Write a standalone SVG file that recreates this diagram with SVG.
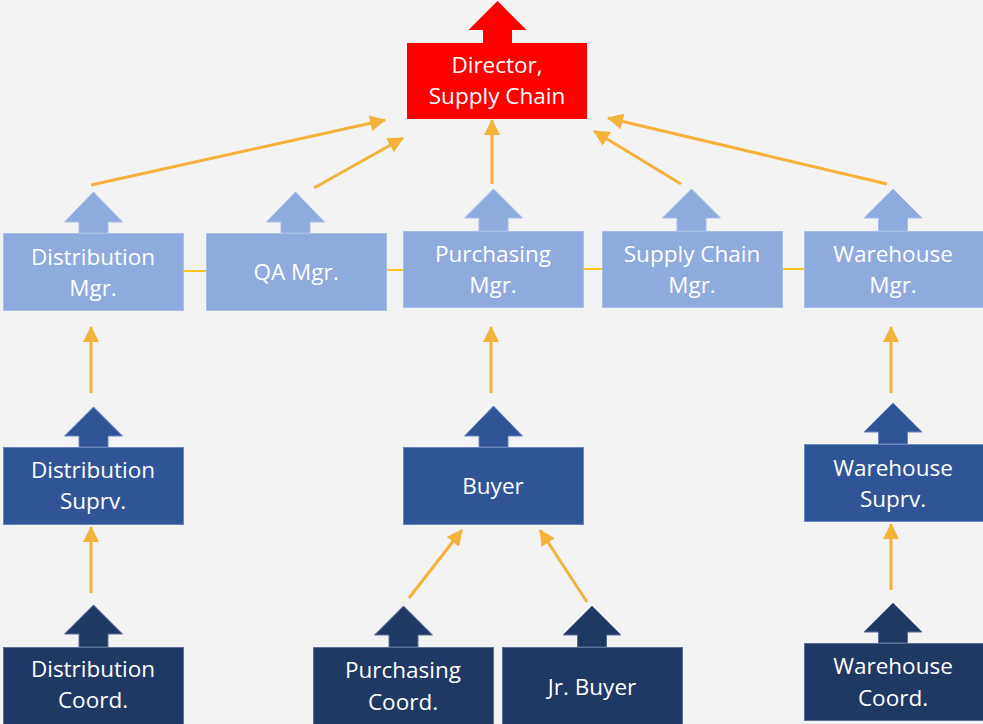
<svg xmlns="http://www.w3.org/2000/svg" width="983" height="724" viewBox="0 0 983 724">
<defs>
<style>
.t{font-family:"Open Sans","Liberation Sans",sans-serif;font-size:22.5px;fill:#ffffff;text-anchor:middle}
.lt{fill:#8faadc;stroke:#a9bee6;stroke-width:1}
.md{fill:#2f5597;stroke:#6b87bd;stroke-width:1}
.dk{fill:#203864;stroke:#5d6f96;stroke-width:1}
.rd{fill:#ff0000}
.ar{stroke:#f5b23a;stroke-width:3;fill:none;marker-end:url(#ah)}
.ln{stroke:#ffc000;stroke-width:1.8;fill:none}
</style>
<marker id="ah" viewBox="0 0 16 16" refX="15" refY="8" markerWidth="16" markerHeight="16" markerUnits="userSpaceOnUse" orient="auto">
<path d="M0,0 L16,8 L0,16 z" fill="#f5b23a"/>
</marker>
</defs>
<rect width="983" height="724" fill="#f3f3f3"/>

<g id="connectors">
<line class="ln" x1="183" y1="271" x2="206" y2="271"/>
<line class="ln" x1="386" y1="270" x2="403" y2="270"/>
<line class="ln" x1="583" y1="269" x2="602" y2="269"/>
<line class="ln" x1="782" y1="269" x2="804" y2="269"/>
<line class="ar" x1="91" y1="185" x2="385" y2="120"/>
<line class="ar" x1="314" y1="188" x2="403" y2="138"/>
<line class="ar" x1="492" y1="184" x2="492" y2="120"/>
<line class="ar" x1="681" y1="184" x2="594" y2="131"/>
<line class="ar" x1="887" y1="184" x2="608" y2="118"/>
<line class="ar" x1="91" y1="393" x2="91" y2="327"/>
<line class="ar" x1="491" y1="393" x2="491" y2="327"/>
<line class="ar" x1="891" y1="393" x2="891" y2="327"/>
<line class="ar" x1="91" y1="593" x2="91" y2="527"/>
<line class="ar" x1="891" y1="590" x2="891" y2="524"/>
<line class="ar" x1="409" y1="598" x2="462" y2="530"/>
<line class="ar" x1="587" y1="602" x2="540" y2="530"/>
</g>

<g id="director">
<path class="rd" d="M497.5,1 L526.5,30 L512,30 L512,43 L483,43 L483,30 L468.5,30 Z"/>
<rect class="rd" x="407" y="43" width="180" height="76"/>
<text class="t" x="497" y="73">Director,</text>
<text class="t" x="497" y="104">Supply Chain</text>
</g>

<g id="distribution-mgr">
<path class="lt" d="M93.5,192 L122.5,222 L108,222 L108,233 L79,233 L79,222 L64.5,222 Z"/>
<rect class="lt" x="3.5" y="233.5" width="180" height="77"/>
<text class="t" x="93" y="265">Distribution</text>
<text class="t" x="93" y="296">Mgr.</text>
</g>

<g id="qa-mgr">
<path class="lt" d="M295.5,192 L324.5,222 L310,222 L310,233 L281,233 L281,222 L266.5,222 Z"/>
<rect class="lt" x="206.5" y="233.5" width="180" height="77"/>
<text class="t" x="296" y="280">QA Mgr.</text>
</g>

<g id="purchasing-mgr">
<path class="lt" d="M493.5,189 L522.5,218 L508,218 L508,231 L479,231 L479,218 L464.5,218 Z"/>
<rect class="lt" x="403.5" y="231.5" width="180" height="76"/>
<text class="t" x="493" y="262">Purchasing</text>
<text class="t" x="493" y="293">Mgr.</text>
</g>

<g id="supply-chain-mgr">
<path class="lt" d="M691.5,189 L720.5,218 L706,218 L706,231 L677,231 L677,218 L662.5,218 Z"/>
<rect class="lt" x="602.5" y="231.5" width="180" height="76"/>
<text class="t" x="692" y="262">Supply Chain</text>
<text class="t" x="692" y="293">Mgr.</text>
</g>

<g id="warehouse-mgr">
<path class="lt" d="M893,189 L922,218 L907.5,218 L907.5,231 L878.5,231 L878.5,218 L864,218 Z"/>
<rect class="lt" x="804.5" y="231.5" width="180" height="76"/>
<text class="t" x="893" y="262">Warehouse</text>
<text class="t" x="893" y="293">Mgr.</text>
</g>

<g id="distribution-suprv">
<path class="md" d="M93.5,407 L122.5,436 L108,436 L108,447 L79,447 L79,436 L64.5,436 Z"/>
<rect class="md" x="3.5" y="447.5" width="180" height="77"/>
<text class="t" x="93" y="478">Distribution</text>
<text class="t" x="93" y="509">Suprv.</text>
</g>

<g id="buyer">
<path class="md" d="M493.5,406 L522.5,436 L508,436 L508,447 L479,447 L479,436 L464.5,436 Z"/>
<rect class="md" x="403.5" y="447.5" width="180" height="77"/>
<text class="t" x="493" y="494">Buyer</text>
</g>

<g id="warehouse-suprv">
<path class="md" d="M893,403 L922,432 L907.5,432 L907.5,444 L878.5,444 L878.5,432 L864,432 Z"/>
<rect class="md" x="804.5" y="444.5" width="180" height="77"/>
<text class="t" x="893" y="476">Warehouse</text>
<text class="t" x="893" y="507">Suprv.</text>
</g>

<g id="distribution-coord">
<path class="dk" d="M93.5,605 L122.5,634 L108,634 L108,647 L79,647 L79,634 L64.5,634 Z"/>
<rect class="dk" x="3.5" y="647.5" width="180" height="77"/>
<text class="t" x="93" y="677">Distribution</text>
<text class="t" x="93" y="708">Coord.</text>
</g>

<g id="purchasing-coord">
<path class="dk" d="M403.5,606 L432.5,635 L418,635 L418,647 L389,647 L389,635 L374.5,635 Z"/>
<rect class="dk" x="313.5" y="647.5" width="180" height="77"/>
<text class="t" x="403" y="678">Purchasing</text>
<text class="t" x="403" y="710">Coord.</text>
</g>

<g id="jr-buyer">
<path class="dk" d="M592,606 L621,635 L606.5,635 L606.5,647 L577.5,647 L577.5,635 L563,635 Z"/>
<rect class="dk" x="502.5" y="647.5" width="180" height="77"/>
<text class="t" x="592" y="695">Jr. Buyer</text>
</g>

<g id="warehouse-coord">
<path class="dk" d="M893,603 L922,632 L907.5,632 L907.5,643 L878.5,643 L878.5,632 L864,632 Z"/>
<rect class="dk" x="804.5" y="643.5" width="180" height="77"/>
<text class="t" x="893" y="674">Warehouse</text>
<text class="t" x="893" y="706">Coord.</text>
</g>
</svg>
